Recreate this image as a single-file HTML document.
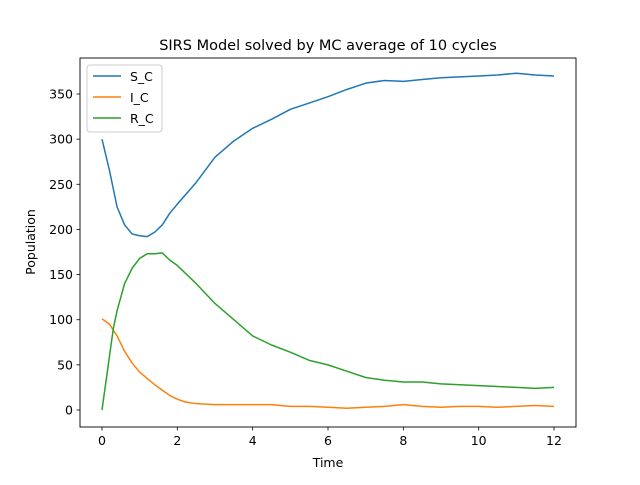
<!DOCTYPE html>
<html><head><meta charset="utf-8"><style>
body{margin:0;background:#fff;}
svg text{font-family:"DejaVu Sans","Liberation Sans",sans-serif;fill:#000;}
</style></head><body>
<svg id="c" width="640" height="480" viewBox="0 0 640 480">
<rect width="640" height="480" fill="#fff"/>
<text x="328" y="50" font-size="14.5" text-anchor="middle">SIRS Model solved by MC average of 10 cycles</text>
<g id="plot"></g>
<rect x="80" y="58" width="496" height="369" fill="none" stroke="#000" stroke-width="0.9"/>
<text x="328" y="467" font-size="12.5" text-anchor="middle">Time</text>
<text transform="translate(35,242) rotate(-90)" font-size="12.5" text-anchor="middle">Population</text>
<g>
<rect x="87" y="65" width="75" height="67" rx="3" fill="#fff" fill-opacity="0.8" stroke="#ccc"/>
<line x1="93" y1="76" x2="121" y2="76" stroke="#1f77b4" stroke-width="1.5"/>
<text x="130" y="81" font-size="12.5">S_C</text>
<line x1="93" y1="97" x2="121" y2="97" stroke="#ff7f0e" stroke-width="1.5"/>
<text x="130" y="102" font-size="12.5">I_C</text>
<line x1="93" y1="118" x2="121" y2="118" stroke="#2ca02c" stroke-width="1.5"/>
<text x="130" y="123" font-size="12.5">R_C</text>
</g>
</svg>
<script>
const xTicks=[0,2,4,6,8,10,12];
const yTicks=[0,50,100,150,200,250,300,350];
const tS=[0,0.2,0.4,0.6,0.8,1.0,1.2,1.4,1.6,1.8,2,2.5,3,3.5,4,4.5,5,5.5,6,6.5,7,7.5,8,8.5,9,9.5,10,10.5,11,11.5,12];
const sVals=[300,265,225,205,195,193,192,197,205,218,228,252,280,298,312,322,333,340,347,355,362,365,364,366,368,369,370,371,373,371,370];
const tI=[0,0.2,0.4,0.6,0.8,1.0,1.2,1.4,1.6,1.8,2,2.2,2.5,3,3.5,4,4.5,5,5.5,6,6.5,7,7.5,8,8.5,9,9.5,10,10.5,11,11.5,12];
const iVals=[101,95,82,65,52,42,35,28,22,16,12,9,7,6,6,6,6,4,4,3,2,3,4,6,4,3,4,4,3,4,5,4];
const tR=[0,0.1,0.2,0.3,0.4,0.6,0.8,1.0,1.2,1.4,1.6,1.8,2,2.5,3,3.5,4,4.5,5,5.5,6,6.5,7,7.5,8,8.5,9,9.5,10,10.5,11,11.5,12];
const rVals=[0,30,60,90,110,140,157,168,173,173,174,166,160,140,118,100,82,72,64,55,50,43,36,33,31,31,29,28,27,26,25,24,25];
const X=t=>102+t*(452/12);
const Y=v=>410-v*(316/350);
const NS="http://www.w3.org/2000/svg";
const g=document.getElementById('plot');
function mk(tag,a){const e=document.createElementNS(NS,tag);for(const k in a)e.setAttribute(k,a[k]);g.appendChild(e);return e;}
xTicks.forEach(t=>{
  const l=mk('line',{x1:X(t),x2:X(t),y1:427,y2:430.5,stroke:'#000','stroke-width':0.8});
  
  
  const tx=mk('text',{x:X(t),y:445,'font-size':12.5,'text-anchor':'middle'});tx.textContent=t;
  
  
});
yTicks.forEach(v=>{
  const l=mk('line',{x1:76.5,x2:80,y1:Y(v),y2:Y(v),stroke:'#000','stroke-width':0.8});
  
  
  const tx=mk('text',{x:73,y:Y(v)+4.5,'font-size':12.5,'text-anchor':'end'});tx.textContent=v;
  
  
});
function line(ts,vs,c,n){
  const p=mk('polyline',{points:ts.map((t,i)=>X(t)+','+Y(vs[i])).join(' '),fill:'none',stroke:c,'stroke-width':1.5,'stroke-linejoin':'round'});
  
  
}
line(tS,sVals,'#1f77b4','series-s');
line(tI,iVals,'#ff7f0e','series-i');
line(tR,rVals,'#2ca02c','series-r');
</script>
</body></html>
